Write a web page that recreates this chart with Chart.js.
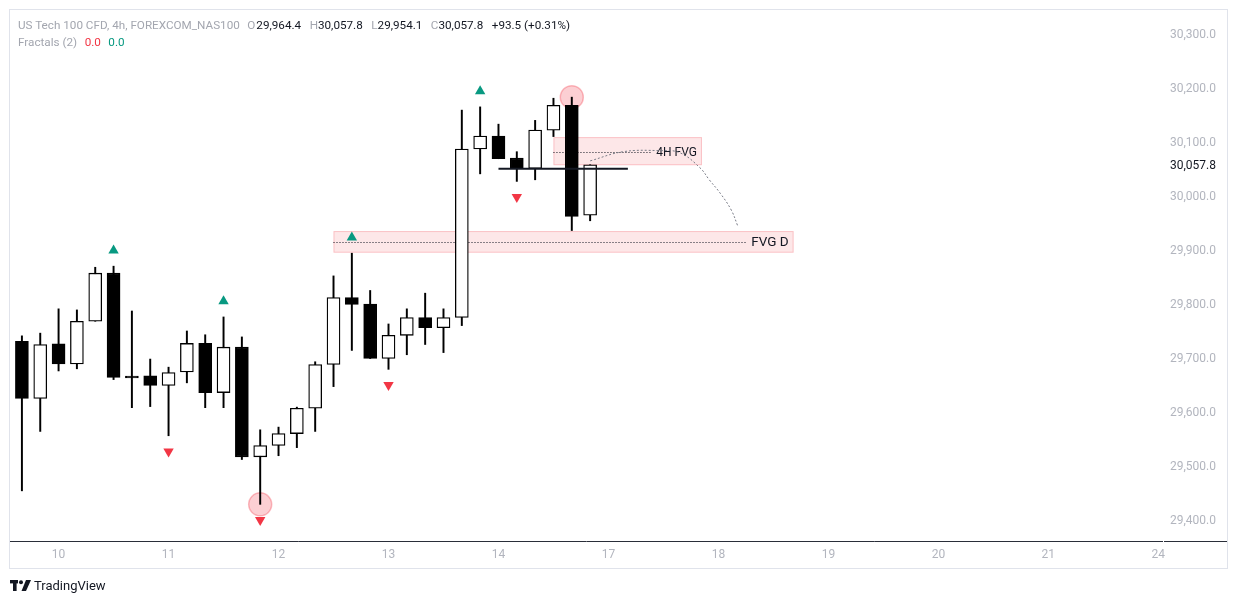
<!DOCTYPE html>
<html>
<head>
<meta charset="utf-8">
<script src="https://cdn.jsdelivr.net/npm/chart.js@4.4.1/dist/chart.umd.min.js"></script>
<style>
  html, body { margin: 0; padding: 0; background: #fff; }
  body { width: 1237px; height: 604px; position: relative; overflow: hidden; font-family: Roboto, "Liberation Sans", sans-serif; }
  #frame { position: absolute; left: 9px; top: 9px; width: 1217px; height: 558px; border: 1px solid #e0e3eb; }
  #wrap { position: absolute; left: 0; top: 0; width: 1237px; height: 604px; }
  .hdr { position: absolute; left: 18px; font-size: 11.7px; color: #a3a6af; white-space: nowrap; }
  .hdr b { font-weight: normal; color: #131722; }
  .gap { margin-left: 8.5px; }
  .g2 { margin-left: 7.5px; }
  #footer { position: absolute; left: 10px; top: 578px; font-size: 13px; color: #131722; display: flex; align-items: center; }
</style>
</head>
<body>
<div id="frame"></div>
<div id="wrap"><canvas id="myChart" width="1237" height="604"></canvas></div>
<div class="hdr" style="top:18px">US Tech 100 CFD, 4h, FOREXCOM_NAS100<span class="g2">O</span><b style="margin-left:1px">29,964.4</b><span class="gap">H</span><b>30,057.8</b><span class="gap">L</span><b>29,954.1</b><span class="gap">C</span><b>30,057.8</b><b class="gap">+93.5 (+0.31%)</b></div>
<div class="hdr" style="top:35px">Fractals (2)<span class="g2" style="color:#f23645">0.0</span><span class="g2" style="color:#089981">0.0</span></div>
<div id="footer">
  <svg width="21" height="11" viewBox="0 0 21 11" style="margin-right:3px">
    <rect x="0" y="0" width="8" height="3.4" fill="#131722"/>
    <rect x="3" y="0" width="3.6" height="11" fill="#131722"/>
    <circle cx="11" cy="2.2" r="2" fill="#131722"/>
    <polygon points="16,0 21,0 16,11 11.5,11" fill="#131722"/>
  </svg>
  <span>TradingView</span>
</div>
<script>
// 4h candles, index 0..31
const opens  = [29731, 29625, 29726, 29689, 29768, 29857, 29666, 29667, 29649, 29674, 29727, 29636, 29720, 29517, 29538, 29560,
                29607, 29688, 29812, 29800, 29699, 29742, 29775, 29756, 29775, 30087, 30111, 30070, 30051, 30122, 30168, 29964.4];
const highs  = [29741, 29746, 29791, 29789, 29868, 29870, 29787, 29698, 29683, 29750, 29743, 29776, 29739, 29567, 29572, 29609,
                29693, 29852, 29894, 29825, 29763, 29791, 29820, 29791, 30159, 30165, 30133, 30082, 30140, 30181, 30183, 30057.8];
const lows   = [29454, 29564, 29676, 29680, 29768, 29660, 29608, 29610, 29556, 29654, 29608, 29608, 29512, 29429, 29519, 29534,
                29564, 29647, 29714, 29699, 29679, 29706, 29725, 29710, 29760, 30041, 30069, 30027, 30030, 30110, 29936, 29954.1];
const closes = [29625, 29725, 29689, 29768, 29857, 29664, 29663, 29649, 29673, 29727, 29636, 29720, 29517, 29538, 29560, 29607,
                29688, 29812, 29799, 29699, 29742, 29775, 29756, 29775, 30087, 30111, 30069, 30051, 30122, 30168, 29962, 30057.8];

const fractalUp = [5, 11, 18, 25];
const fractalDown = [8, 13, 20, 27];
const circledLows = [13];
const circledHighs = [30];

const dayTickIndex = [2, 8, 14, 20, 26, 32, 38, 44, 50, 56, 62];
const dayLabels = ['10', '11', '12', '13', '14', '17', '18', '19', '20', '21', '24'];
const priceTicks = [29400, 29500, 29600, 29700, 29800, 29900, 30000, 30100, 30200, 30300];
const lastPrice = 30057.8;

// FVG zones (candle index range, price range)
const zoneLabels = ['FVG D', '4H FVG'];
const zoneStart = [17, 29];
const zoneEnd = [42.1, 37.1];
const zoneTop = [29935, 30109];
const zoneBottom = [29895, 30057];
const zoneMid = [29915, 30082];

// horizontal level and arc drawing
const levelX = [26, 33.06];
const levelY = [30050.6, 30050.6];
const arcX = [31.0, 32.8, 34.8, 35.9, 37.0, 37.5, 38.1, 38.7, 39.06];
const arcY = [30065, 30082, 30084, 30080, 30052, 30030, 30005, 29974, 29944];

const FRACTAL_GAP = 29;
const up = '#ffffff', down = '#000000';

const bodies = opens.map((o, i) => ({ x: i, y: [o, closes[i]] }));
const wicks = opens.map((o, i) => ({ x: i, y: [lows[i], highs[i]] }));
const bodyColors = opens.map((o, i) => closes[i] >= o ? up : down);

function noOverhang(s) {
  s.paddingTop = 0; s.paddingBottom = 0; s.paddingLeft = 0; s.paddingRight = 0;
}

const zonePlugin = {
  id: 'zones',
  beforeDatasetsDraw(chart) {
    const { ctx, scales: { x, y } } = chart;
    ctx.save();
    zoneLabels.forEach((lbl, k) => {
      const x1 = x.getPixelForValue(zoneStart[k]), x2 = x.getPixelForValue(zoneEnd[k]);
      const y1 = y.getPixelForValue(zoneTop[k]), y2 = y.getPixelForValue(zoneBottom[k]);
      ctx.fillStyle = 'rgba(242,54,69,0.12)';
      ctx.fillRect(x1, y1, x2 - x1, y2 - y1);
      ctx.strokeStyle = 'rgba(242,54,69,0.22)';
      ctx.lineWidth = 1;
      ctx.strokeRect(x1 + 0.5, y1 + 0.5, x2 - x1 - 1, y2 - y1 - 1);
      const ym = Math.round(y.getPixelForValue(zoneMid[k])) + 0.5;
      ctx.font = (k === 0 ? '13.5px' : '12px') + ' Roboto';
      const tw = ctx.measureText(lbl).width;
      ctx.setLineDash([1, 2]);
      ctx.strokeStyle = '#131722';
      ctx.beginPath();
      ctx.moveTo(x1, ym);
      ctx.lineTo(x2 - tw - 10, ym);
      ctx.stroke();
      ctx.setLineDash([]);
      ctx.fillStyle = '#131722';
      ctx.textAlign = 'right';
      ctx.textBaseline = 'middle';
      ctx.fillText(lbl, x2 - 5, ym + 0.5);
    });
    ctx.restore();
  },
  afterDraw(chart) {
    const { ctx, chartArea } = chart;
    ctx.save();
    ctx.strokeStyle = '#2a2e39';
    ctx.lineWidth = 1;
    ctx.beginPath();
    ctx.moveTo(chartArea.right + 2, chartArea.bottom + 0.5);
    ctx.lineTo(1227, chartArea.bottom + 0.5);
    ctx.stroke();
    ctx.restore();
  }
};

const ctx = document.getElementById('myChart');

new Chart(ctx, {
  type: 'bar',
  data: {
    datasets: [
      {
        type: 'scatter',
        data: fractalUp.map(i => ({ x: i, y: highs[i] + FRACTAL_GAP })),
        pointStyle: 'triangle', pointRadius: 6, backgroundColor: '#089981', borderWidth: 0, order: 1
      },
      {
        type: 'scatter',
        data: fractalDown.map(i => ({ x: i, y: lows[i] - FRACTAL_GAP })),
        pointStyle: 'triangle', rotation: 180, pointRadius: 6, backgroundColor: '#f23645', borderWidth: 0, order: 1
      },
      {
        type: 'line',
        data: levelX.map((v, i) => ({ x: v, y: levelY[i] })),
        borderColor: '#131722', borderWidth: 2, pointRadius: 0, order: 0
      },
      {
        type: 'line',
        data: arcX.map((v, i) => ({ x: v, y: arcY[i] })),
        borderColor: '#787b86', borderWidth: 1, borderDash: [2, 2], pointRadius: 0, tension: 0.4, order: 0
      },
      {
        data: bodies, grouped: false, barThickness: 13, backgroundColor: bodyColors, borderColor: '#000000',
        borderWidth: 1.3, borderSkipped: false, minBarLength: 2, order: 2
      },
      {
        data: wicks, grouped: false, barThickness: 1.3, backgroundColor: '#000000', borderWidth: 0, order: 3
      },
      {
        type: 'scatter',
        data: circledLows.map(i => ({ x: i, y: lows[i] })).concat(circledHighs.map(i => ({ x: i, y: highs[i] }))),
        pointRadius: 11.5, backgroundColor: 'rgba(242,54,69,0.24)', borderColor: 'rgba(242,54,69,0.32)', borderWidth: 1.5, order: 4
      }
    ]
  },
  options: {
    responsive: false,
    animation: false,
    layout: { autoPadding: false, padding: { left: 10, right: 10, top: 10, bottom: 36 } },
    plugins: { legend: { display: false }, tooltip: { enabled: false } },
    scales: {
      x: {
        type: 'linear', offset: false, min: -0.65, max: 62.2,
        grid: { display: false, drawTicks: false },
        border: { display: true, color: '#2a2e39', width: 1 },
        afterBuildTicks: s => { s.ticks = dayTickIndex.map(v => ({ value: v })); },
        afterFit: s => { s.height = 27; noOverhang(s); },
        ticks: {
          autoSkip: false, maxRotation: 0, padding: 7, color: '#b2b5be', font: { family: 'Roboto', size: 12 },
          callback: v => dayLabels[dayTickIndex.indexOf(v)]
        }
      },
      y: {
        position: 'right', min: 29361.1, max: 30344.4,
        grid: { display: false, drawTicks: false },
        border: { display: false },
        afterBuildTicks: s => { s.ticks = priceTicks.concat([lastPrice]).sort((a, b) => a - b).map(v => ({ value: v })); },
        afterFit: s => { s.width = 65; noOverhang(s); },
        ticks: {
          autoSkip: false, padding: 8, labelOffset: 1.5, font: { family: 'Roboto', size: 12 },
          color: c => c.tick && c.tick.value === lastPrice ? '#131722' : '#b2b5be',
          callback: v => v.toLocaleString('en-US', { minimumFractionDigits: 1, maximumFractionDigits: 1 })
        }
      }
    }
  },
  plugins: [zonePlugin]
});
</script>
</body>
</html>
